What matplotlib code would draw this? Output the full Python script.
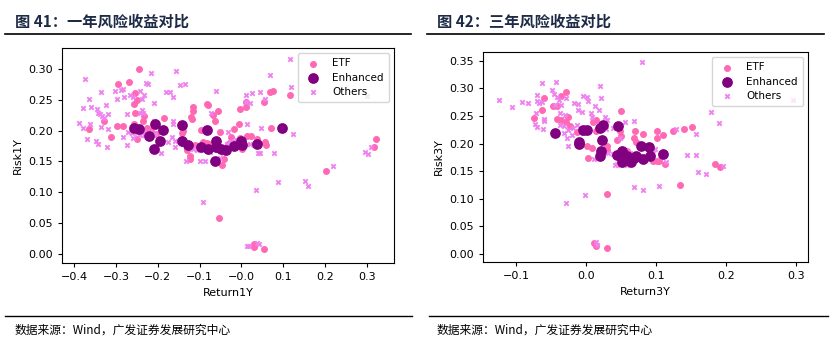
import numpy as np
import matplotlib
matplotlib.use("Agg")
import matplotlib.pyplot as plt
from matplotlib.lines import Line2D

plt.rcParams['font.family'] = ['DejaVu Sans']
CJK = ['Noto Sans CJK SC', 'DejaVu Sans']

# ----------------------------
# 一年期数据
# ----------------------------
etf1_ret = [-0.244, -0.294, -0.268, -0.254, -0.250, -0.256, -0.255, -0.234, -0.236, -0.328,
            -0.364, -0.298, -0.284, -0.311, -0.257, -0.249, -0.186, -0.119, -0.115, -0.115,
            -0.121, -0.140, -0.143, -0.083, -0.079, -0.067, -0.055, -0.063, -0.051, -0.096,
            -0.091, -0.124, -0.122, -0.047, -0.041, -0.025, -0.019, -0.007, -0.003, 0.010,
            0.010, 0.053, 0.067, 0.075, 0.116, 0.070, 0.057, 0.058, 0.002, 0.013,
            0.022, 0.036, 0.322, 0.316, 0.202, -0.053, 0.030, 0.031, 0.053, -0.077,
            -0.059, -0.067, -0.131, -0.110, -0.083, -0.031, -0.003, -0.225, -0.215, -0.205]
etf1_risk = [0.300, 0.275, 0.279, 0.261, 0.249, 0.243, 0.228, 0.223, 0.216, 0.216,
             0.203, 0.208, 0.207, 0.189, 0.211, 0.186, 0.220, 0.219, 0.238, 0.232,
             0.222, 0.200, 0.196, 0.243, 0.241, 0.226, 0.232, 0.216, 0.197, 0.201,
             0.182, 0.159, 0.154, 0.144, 0.154, 0.189, 0.202, 0.211, 0.235, 0.246,
             0.238, 0.246, 0.262, 0.264, 0.258, 0.205, 0.182, 0.176, 0.170, 0.191,
             0.191, 0.187, 0.186, 0.174, 0.134, 0.059, 0.017, 0.012, 0.008, 0.179,
             0.178, 0.173, 0.169, 0.177, 0.180, 0.178, 0.188, 0.205, 0.200, 0.195]

enh1_ret = [-0.257, -0.245, -0.206, -0.221, -0.210, -0.194, -0.188, -0.142, -0.141, -0.127,
            -0.083, -0.096, -0.079, -0.063, -0.061, -0.061, -0.049, -0.037, -0.019, -0.002,
            0.002, 0.038, 0.097]
enh1_risk = [0.204, 0.202, 0.210, 0.192, 0.171, 0.183, 0.201, 0.209, 0.184, 0.177,
             0.201, 0.173, 0.171, 0.150, 0.183, 0.174, 0.170, 0.169, 0.175, 0.184,
             0.177, 0.178, 0.205]

oth1_ret = [-0.374, -0.388, -0.379, -0.368, -0.365, -0.360, -0.378, -0.362, -0.347, -0.342,
            -0.346, -0.343, -0.336, -0.338, -0.333, -0.335, -0.328, -0.322, -0.323, -0.320,
            -0.320, -0.302, -0.298, -0.288, -0.284, -0.281, -0.274, -0.273, -0.282, -0.266,
            -0.258, -0.242, -0.238, -0.234, -0.238, -0.242, -0.236, -0.233, -0.227, -0.224,
            -0.217, -0.210, -0.210, -0.206, -0.192, -0.181, -0.171, -0.163, -0.156, -0.147,
            -0.136, -0.164, -0.163, -0.176, -0.159, -0.159, -0.167, -0.140, -0.133, -0.100,
            -0.092, -0.086, -0.061, -0.080, -0.073, -0.051, -0.033, -0.045, 0.010, 0.010,
            0.014, 0.021, 0.025, 0.017, 0.038, 0.043, 0.013, 0.045, 0.047, 0.057,
            0.045, 0.039, 0.034, 0.067, 0.078, 0.087, 0.116, 0.119, 0.122, 0.151,
            0.158, 0.218, 0.296, 0.302, 0.310, 0.300,
            -0.262, -0.250, -0.242, -0.234, -0.226, -0.218, -0.258, -0.270, -0.019, -0.011,
            -0.007, -0.027, -0.035, -0.099, -0.107, -0.115, -0.123, -0.089, -0.075, -0.071,
            -0.059, 0.013, 0.021, 0.029]
oth1_risk = [0.283, 0.212, 0.204, 0.186, 0.252, 0.238, 0.236, 0.211, 0.183, 0.179,
             0.235, 0.228, 0.262, 0.227, 0.223, 0.206, 0.220, 0.174, 0.241, 0.202,
             0.227, 0.264, 0.251, 0.266, 0.268, 0.255, 0.227, 0.177, 0.189, 0.258,
             0.255, 0.264, 0.252, 0.257, 0.234, 0.228, 0.228, 0.198, 0.277, 0.275,
             0.294, 0.244, 0.215, 0.195, 0.163, 0.262, 0.262, 0.255, 0.297, 0.274,
             0.275, 0.211, 0.215, 0.181, 0.184, 0.174, 0.189, 0.178, 0.150, 0.150,
             0.085, 0.151, 0.264, 0.199, 0.228, 0.155, 0.197, 0.163, 0.258, 0.246,
             0.211, 0.245, 0.261, 0.013, 0.018, 0.017, 0.013, 0.262, 0.205, 0.251,
             0.164, 0.163, 0.103, 0.290, 0.163, 0.117, 0.316, 0.270, 0.195, 0.118,
             0.111, 0.143, 0.166, 0.162, 0.174, 0.256,
             0.196, 0.196, 0.193, 0.193, 0.196, 0.197, 0.188, 0.198, 0.184, 0.185,
             0.181, 0.181, 0.179, 0.173, 0.169, 0.171, 0.173, 0.170, 0.166, 0.170,
             0.169, 0.179, 0.178, 0.177]

# ----------------------------
# 三年期数据
# ----------------------------
etf3_ret = [-0.074, -0.062, -0.060, -0.047, -0.042, -0.042, -0.036, -0.029, -0.035, -0.025,
            0.001, 0.003, 0.008, 0.014, 0.015, 0.030, 0.011, 0.014, 0.030, 0.044,
            0.048, 0.050, 0.050, 0.070, 0.069, 0.071, 0.082, 0.102, 0.102, 0.110,
            0.124, 0.140, 0.151, 0.134, 0.185, 0.191, 0.059, 0.113,
            -0.028, -0.023, -0.013, 0.010, 0.027, 0.030, 0.049, 0.056, 0.096, 0.102,
            0.105, 0.030]
etf3_risk = [0.246, 0.260, 0.282, 0.269, 0.268, 0.245, 0.287, 0.293, 0.242, 0.249,
             0.196, 0.174, 0.192, 0.222, 0.242, 0.108, 0.019, 0.015, 0.011, 0.207,
             0.223, 0.259, 0.214, 0.223, 0.210, 0.202, 0.218, 0.222, 0.210, 0.216,
             0.222, 0.227, 0.230, 0.125, 0.163, 0.157, 0.186, 0.163,
             0.240, 0.231, 0.221, 0.239, 0.187, 0.189, 0.170, 0.177, 0.169, 0.169,
             0.169, 0.195]

enh3_ret = [-0.044, -0.010, -0.010, -0.004, 0.002, 0.020, 0.025, 0.023, 0.020, 0.021,
            0.046, 0.044, 0.051, 0.052, 0.058, 0.065, 0.072, 0.078, 0.081, 0.090,
            0.091, 0.110, 0.060, 0.068]
enh3_risk = [0.219, 0.203, 0.199, 0.224, 0.225, 0.228, 0.233, 0.207, 0.177, 0.187,
             0.232, 0.180, 0.186, 0.167, 0.177, 0.167, 0.178, 0.195, 0.172, 0.193,
             0.177, 0.181, 0.170, 0.174]

oth3_ret = [-0.124, -0.106, -0.091, -0.082, -0.073, -0.070, -0.063, -0.070, -0.060, -0.061,
            -0.049, -0.043, -0.045, -0.037, -0.025, -0.017, -0.012, -0.011, -0.006, -0.004,
            0.001, -0.001, 0.003, 0.007, 0.013, 0.020, 0.021, 0.019, 0.011, 0.038,
            0.056, 0.069, 0.069, 0.081, 0.099, 0.105, 0.128, 0.157, 0.157, 0.160,
            0.171, 0.178, 0.190, 0.196, 0.295, 0.080, -0.028, 0.015, 0.016,
            -0.071, -0.070, -0.067, -0.062, -0.060, -0.042, -0.039, -0.035, -0.044, -0.030,
            -0.028, -0.027, -0.020, 0.009, 0.027, 0.030, 0.029, 0.020, 0.049, 0.144,
            0.041, 0.044, -0.032, -0.025, -0.018, -0.013, -0.009, -0.004, -0.032, -0.037,
            0.025, 0.032, 0.039, 0.049, 0.056, 0.063, 0.070, 0.077, 0.087, 0.094,
            0.096, 0.106, 0.115, 0.049, 0.058]
oth3_risk = [0.279, 0.266, 0.276, 0.273, 0.236, 0.230, 0.310, 0.288, 0.245, 0.227,
             0.297, 0.311, 0.290, 0.255, 0.195, 0.273, 0.272, 0.261, 0.258, 0.287,
             0.285, 0.107, 0.278, 0.255, 0.268, 0.304, 0.282, 0.261, 0.172, 0.229,
             0.240, 0.241, 0.121, 0.116, 0.191, 0.123, 0.226, 0.217, 0.180, 0.149,
             0.145, 0.258, 0.237, 0.159, 0.279, 0.348, 0.093, 0.021, 0.017,
             0.255, 0.278, 0.273, 0.276, 0.241, 0.285, 0.279, 0.270, 0.270, 0.252,
             0.282, 0.211, 0.216, 0.249, 0.249, 0.243, 0.227, 0.189, 0.210, 0.180,
             0.161, 0.163, 0.231, 0.225, 0.228, 0.234, 0.225, 0.219, 0.219, 0.234,
             0.183, 0.183, 0.181, 0.183, 0.189, 0.183, 0.180, 0.178, 0.175, 0.186,
             0.183, 0.177, 0.166, 0.161, 0.161]

ETF_COLOR = '#ff69b4'
ENH_COLOR = '#800080'
OTH_COLOR = '#ee82ee'
TITLE_COLOR = '#1d2b46'


def draw_panel(ax, etf, enh, oth, xlabel, ylabel, xlim, ylim, xticks, yticks):
    ax.scatter(etf[0], etf[1], s=16, color=ETF_COLOR, label='ETF', zorder=2)
    ax.scatter(enh[0], enh[1], s=45, color=ENH_COLOR, label='Enhanced', zorder=3)
    ax.scatter(oth[0], oth[1], s=10, marker='x', linewidths=1.4, color=OTH_COLOR,
               label='Others', zorder=2)
    ax.set_xlim(*xlim)
    ax.set_ylim(*ylim)
    ax.set_xticks(xticks)
    ax.set_yticks(yticks)
    ax.xaxis.set_major_formatter(plt.FuncFormatter(lambda v, p: f"{v:.1f}".replace('-', '\u2212')))
    ax.yaxis.set_major_formatter(plt.FuncFormatter(lambda v, p: f"{v:.2f}"))
    ax.tick_params(labelsize=8, length=3)
    ax.set_xlabel(xlabel, fontsize=8)
    ax.set_ylabel(ylabel, fontsize=8)
    ax.legend(loc='upper right', fontsize=7.5, borderpad=0.5, labelspacing=0.4)


fig = plt.figure(figsize=(8.35, 3.47), dpi=100)

ax1 = fig.add_axes([0.0743, 0.2421, 0.3976, 0.6196])
draw_panel(ax1, (etf1_ret, etf1_risk), (enh1_ret, enh1_risk), (oth1_ret, oth1_risk),
           'Return1Y', 'Risk1Y', (-0.4286, 0.3644), (-0.0146, 0.334),
           np.arange(-0.4, 0.31, 0.1), np.arange(0, 0.31, 0.05))

ax2 = fig.add_axes([0.5784, 0.2450, 0.3892, 0.6052])
draw_panel(ax2, (etf3_ret, etf3_risk), (enh3_ret, enh3_risk), (oth3_ret, oth3_risk),
           'Return3Y', 'Risk3Y', (-0.147, 0.317), (-0.0145, 0.366),
           np.arange(-0.1, 0.31, 0.1), np.arange(0, 0.36, 0.05))

# 标题、分隔线与数据来源
fig.text(15 / 835, 1 - 22 / 347, '图 41：一年风险收益对比', family=CJK, fontsize=11,
         fontweight='bold', color=TITLE_COLOR, va='center')
fig.text(437 / 835, 1 - 22 / 347, '图 42：三年风险收益对比', family=CJK, fontsize=11,
         fontweight='bold', color=TITLE_COLOR, va='center')

for x0, x1 in [(5, 411), (427, 824)]:
    fig.add_artist(Line2D([x0 / 835, x1 / 835], [1 - 34 / 347] * 2,
                          transform=fig.transFigure, color='black', lw=1.2))
for x0, x1 in [(5, 412), (429, 828)]:
    fig.add_artist(Line2D([x0 / 835, x1 / 835], [1 - 316 / 347] * 2,
                          transform=fig.transFigure, color='black', lw=1.0))

fig.text(15 / 835, 1 - 330 / 347, '数据来源：Wind，广发证券发展研究中心', family=CJK,
         fontsize=8.5, color='black', va='center')
fig.text(437 / 835, 1 - 330 / 347, '数据来源：Wind，广发证券发展研究中心', family=CJK,
         fontsize=8.5, color='black', va='center')

fig.savefig('out.png', dpi=100)
